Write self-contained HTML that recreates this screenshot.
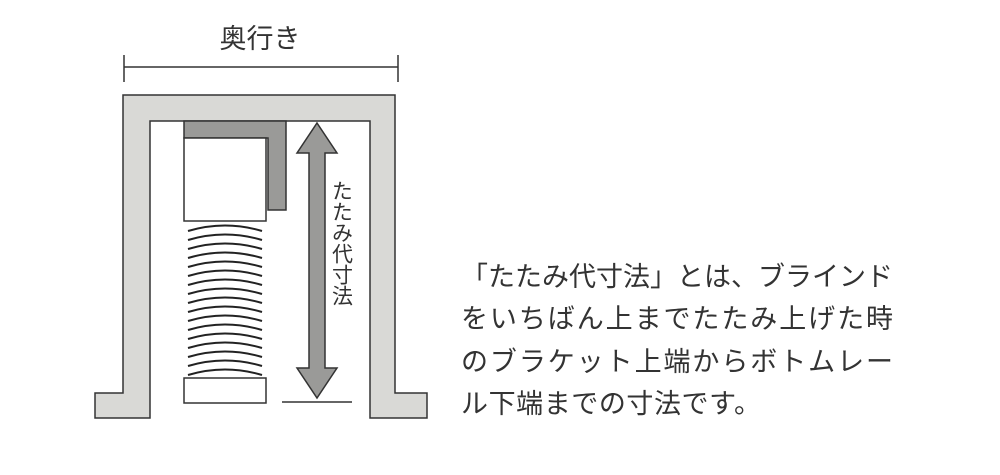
<!DOCTYPE html>
<html><head><meta charset="utf-8"><style>
html,body{margin:0;padding:0;background:#fff;}
svg{display:block;}
text{font-family:"Liberation Sans","Noto Sans CJK JP",sans-serif;fill:#333;}
</style></head><body>
<svg width="1000" height="475" viewBox="0 0 1000 475">
<text x="260" y="39" font-size="27" text-anchor="middle" dominant-baseline="central">奥行き</text>
<g stroke="#333" stroke-width="1.5">
<line x1="124" y1="67" x2="398" y2="67"/>
<line x1="124" y1="55" x2="124" y2="82"/>
<line x1="398" y1="55" x2="398" y2="82"/>
</g>
<path d="M95,418 L150,418 L150,121 L370,121 L370,418 L427,418 L427,393 L395,393 L395,95 L123,95 L123,393 L95,393 Z" fill="#d9d9d6" stroke="#333" stroke-width="1.5"/>
<path d="M184,121 L286,121 L286,210 L268,210 L268,138 L184,138 Z" fill="#9a9a98" stroke="#333" stroke-width="1.5"/>
<rect x="184" y="138" width="82" height="83" fill="#fff" stroke="#333" stroke-width="1.5"/>
<g fill="none" stroke="#222" stroke-width="2">
<path d="M188,231 Q225,220 262,231"/><path d="M188,240 Q225,229 262,240"/><path d="M188,249 Q225,238 262,249"/><path d="M188,258 Q225,247 262,258"/><path d="M188,267 Q225,256 262,267"/><path d="M188,276 Q225,265 262,276"/><path d="M188,285 Q225,274 262,285"/><path d="M188,294 Q225,283 262,294"/><path d="M188,303 Q225,292 262,303"/><path d="M188,312 Q225,301 262,312"/><path d="M188,321 Q225,310 262,321"/><path d="M188,330 Q225,319 262,330"/><path d="M188,339 Q225,328 262,339"/><path d="M188,348 Q225,337 262,348"/><path d="M188,357 Q225,346 262,357"/><path d="M188,366 Q225,355 262,366"/><path d="M188,375 Q225,364 262,375"/>
</g>
<rect x="184" y="378" width="82" height="25" fill="#fff" stroke="#333" stroke-width="1.5"/>
<path d="M317,123 L337,153 L325,153 L325,368 L337,368 L317,398 L297,368 L309,368 L309,153 L297,153 Z" fill="#9a9a98" stroke="#333" stroke-width="1.5"/>
<line x1="282" y1="402" x2="352" y2="402" stroke="#333" stroke-width="1.5"/>
<text font-size="21" style="writing-mode:vertical-rl" x="341" y="180">たたみ代寸法</text>
<g font-size="27" dominant-baseline="central">
<text x="461" y="277" textLength="432" lengthAdjust="spacing">「たたみ代寸法」とは、ブラインド</text>
<text x="461" y="319" textLength="432" lengthAdjust="spacing">をいちばん上までたたみ上げた時</text>
<text x="461" y="362" textLength="432" lengthAdjust="spacing">のブラケット上端からボトムレー</text>
<text x="461" y="404" textLength="300" lengthAdjust="spacing">ル下端までの寸法です。</text>
</g>
</svg>
</body></html>
